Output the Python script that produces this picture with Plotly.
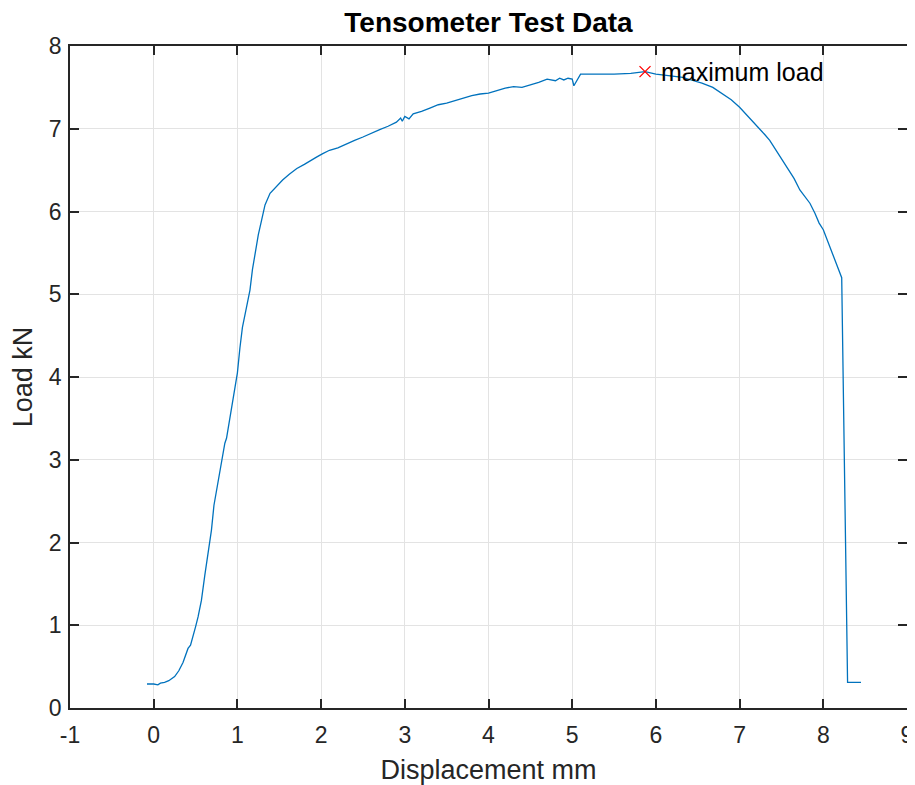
import plotly.graph_objects as go

displacement = [-0.08, 0.0, 0.05, 0.08, 0.13, 0.18, 0.25, 0.3, 0.35, 0.38, 0.41, 0.44, 0.47, 0.5, 0.53,
                0.57, 0.61, 0.65, 0.69, 0.72, 0.77, 0.82, 0.85, 0.87, 0.91, 0.96, 1.0, 1.03, 1.06, 1.1,
                1.15, 1.18, 1.21, 1.25, 1.29, 1.33, 1.39, 1.46, 1.54, 1.62, 1.71, 1.8, 1.86, 1.95, 2.02,
                2.1, 2.2, 2.3, 2.4, 2.5, 2.6, 2.7, 2.8, 2.9, 2.95, 2.97, 3.0, 3.05, 3.1, 3.2, 3.3, 3.4,
                3.5, 3.6, 3.7, 3.8, 3.9, 4.0, 4.1, 4.2, 4.3, 4.4, 4.5, 4.6, 4.7, 4.8, 4.85, 4.9, 4.95,
                5.0, 5.02, 5.06, 5.1, 5.3, 5.5, 5.7, 5.87, 6.0, 6.15, 6.32, 6.45, 6.55, 6.68, 6.8, 6.9,
                7.0, 7.1, 7.2, 7.3, 7.36, 7.45, 7.55, 7.65, 7.72, 7.8, 7.84, 7.9, 7.95, 8.0, 8.06, 8.11,
                8.17, 8.22, 8.29, 8.45]
load = [0.29, 0.29, 0.28, 0.30, 0.31, 0.33, 0.38, 0.45, 0.55, 0.65, 0.72, 0.76, 0.86, 0.98, 1.10,
        1.3, 1.6, 1.85, 2.15, 2.45, 2.75, 3.0, 3.2, 3.26, 3.5, 3.8, 4.05, 4.35, 4.6, 4.8,
        5.05, 5.3, 5.5, 5.72, 5.9, 6.08, 6.22, 6.3, 6.38, 6.45, 6.52, 6.57, 6.61, 6.66, 6.7,
        6.74, 6.77, 6.82, 6.86, 6.9, 6.95, 6.99, 7.03, 7.08, 7.13, 7.09, 7.15, 7.12, 7.18, 7.21, 7.25, 7.29,
        7.31, 7.34, 7.37, 7.40, 7.42, 7.43, 7.46, 7.49, 7.51, 7.50, 7.53, 7.56, 7.60, 7.58, 7.61, 7.59, 7.61,
        7.60, 7.52, 7.60, 7.66, 7.66, 7.66, 7.67, 7.69, 7.66, 7.64, 7.62, 7.58, 7.55, 7.5, 7.42, 7.35,
        7.26, 7.15, 7.05, 6.93, 6.86, 6.72, 6.55, 6.4, 6.26, 6.16, 6.1, 5.98, 5.86, 5.78, 5.62, 5.5,
        5.33, 5.2, 0.31, 0.31]

x_ticks = [-1, 0, 1, 2, 3, 4, 5, 6, 7, 8, 9]
x_tick_labels = ["-1", "0", "1", "2", "3", "4", "5", "6", "7", "8", "9"]
y_ticks = [0, 1, 2, 3, 4, 5, 6, 7, 8]

max_x = 5.87
max_y = 7.69
max_label = "maximum load"

font = "Liberation Sans, Arial, sans-serif"
axcol = "#262626"

fig = go.Figure()
fig.add_trace(go.Scatter(x=displacement, y=load, mode="lines",
                         line=dict(color="#0072BD", width=1.3), showlegend=False))
fig.add_trace(go.Scatter(x=[max_x], y=[max_y], mode="markers",
                         marker=dict(symbol="x-thin", size=11, line=dict(color="#FF0000", width=1.3)),
                         showlegend=False))
fig.add_annotation(x=max_x, y=max_y, text=max_label, showarrow=False,
                   xanchor="left", yanchor="middle", xshift=14,
                   font=dict(family=font, size=25, color="#000000"))

axis_common = dict(showline=True, linecolor=axcol, linewidth=1.5, mirror="ticks",
                   ticks="inside", ticklen=9, tickwidth=1.5, tickcolor=axcol,
                   showgrid=True, gridcolor="#E3E3E3", gridwidth=1, zeroline=False,
                   automargin=False, ticklabeloverflow="allow",
                   tickfont=dict(family=font, size=23, color=axcol))

fig.update_xaxes(range=[-1, 9], tickvals=x_ticks, ticktext=x_tick_labels, ticklabelstandoff=6,
                 title=dict(text="Displacement mm", font=dict(family=font, size=27, color=axcol), standoff=16),
                 **axis_common)
fig.update_yaxes(range=[0, 8], tickvals=y_ticks, ticklabelstandoff=2,
                 title=dict(text="Load kN", font=dict(family=font, size=27, color=axcol), standoff=10),
                 **axis_common)

# page body has an 8px margin, so the figure is offset by (8, 8) in the window
fig.update_layout(width=907, height=777,
                  margin=dict(l=62, r=8, t=38, b=77),
                  paper_bgcolor="white", plot_bgcolor="white",
                  title=dict(text="<b>Tensometer Test Data</b>", xref="paper", x=0.5, xanchor="center",
                             yref="container", y=1 - 14 / 777, yanchor="middle", automargin=False,
                             font=dict(family=font, size=28, color="#000000")))

fig.write_html("out.html", default_width="907px", default_height="777px")
